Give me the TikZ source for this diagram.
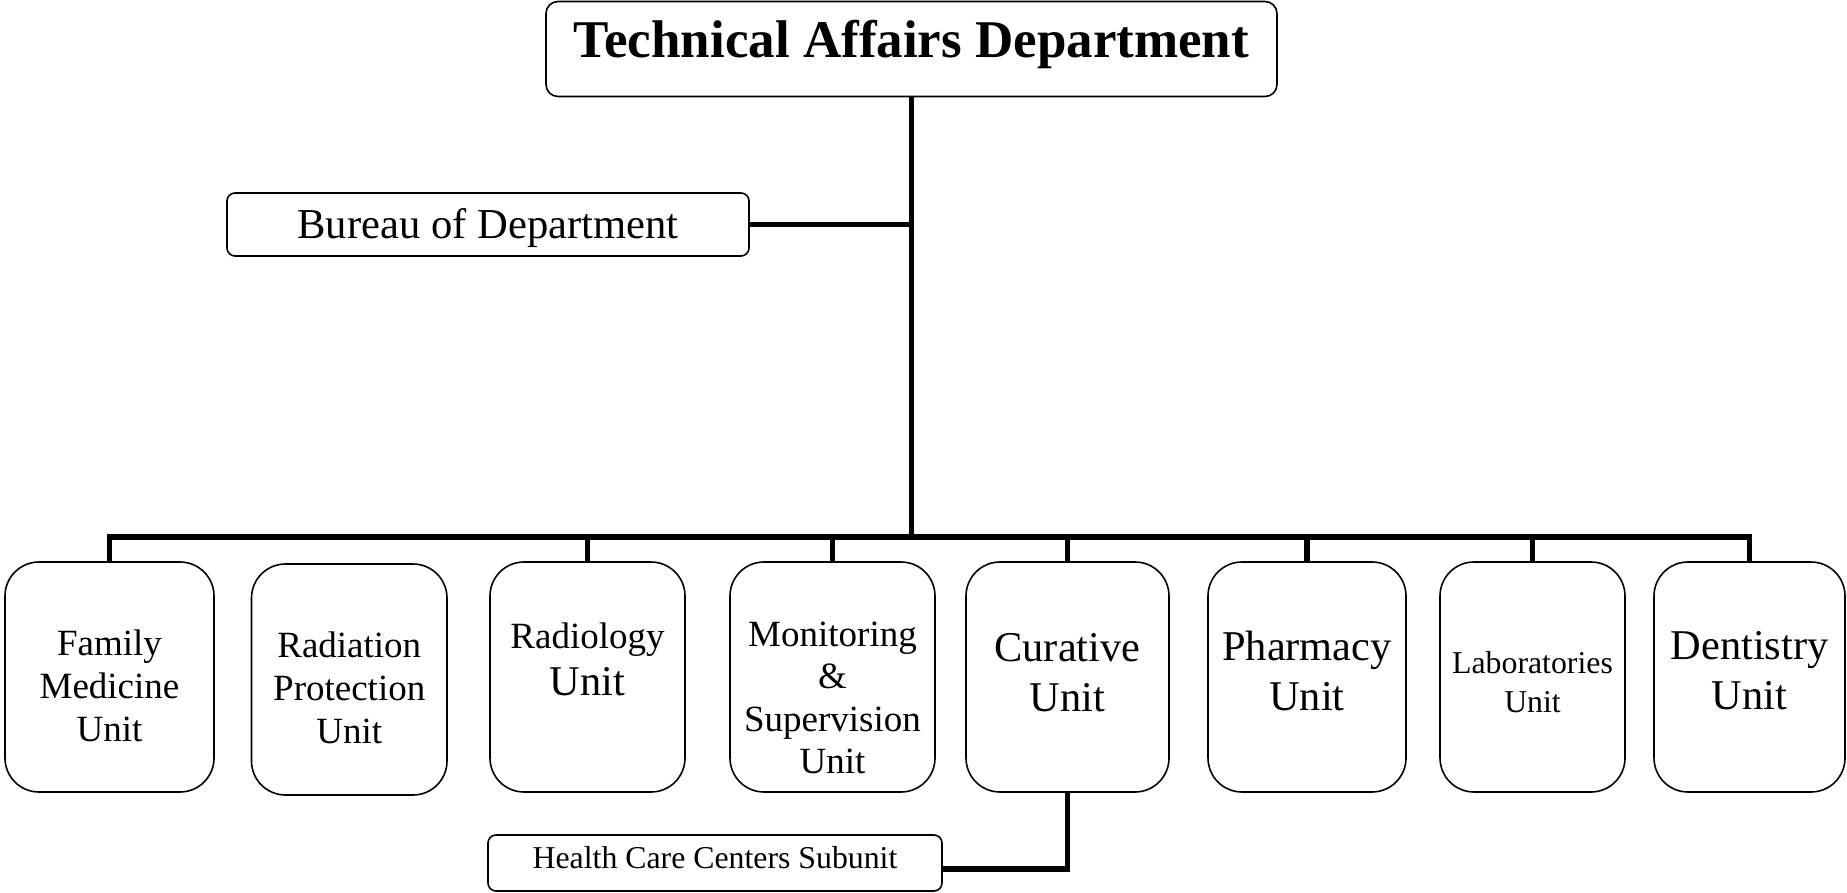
\documentclass[tikz,border=0pt]{standalone}
\usepackage{fontspec}
\setmainfont{Liberation Serif}
\begin{document}
\begin{tikzpicture}[x=0.5pt,y=-0.5pt,
  conn/.style={line width=2.6pt, line join=miter},
  ubox/.style={draw, line width=0.8pt, rounded corners=17pt, minimum height=115pt, inner sep=0pt},
  sbox/.style={draw, line width=0.8pt, rounded corners=4pt, inner sep=0pt},
  utext/.style={align=center, inner sep=0pt},
  mid/.style={font=\fontsize{18.5}{21.6}\selectfont},
  big/.style={font=\fontsize{21.2}{25}\selectfont},
]
\useasboundingbox (0,0) rectangle (1847,893);

% top and bureau
\node[sbox, rounded corners=6pt, minimum width=365.5pt, minimum height=47.5pt] (title) at (911.5,49) {};
\node[utext, font=\fontsize{26.5}{30}\selectfont\bfseries] (titleT) at (911.5,44) {Technical Affairs Department};
\node[sbox, minimum width=261pt, minimum height=31.5pt] (bureau) at (488,224.5) {};
\node[utext, font=\fontsize{21.3}{25}\selectfont] (bureauT) at (488,228) {Bureau of Department};

% unit boxes
\node[ubox, minimum width=104.5pt] (family) at (109.5,677) {};
\node[ubox, minimum width=97.75pt, minimum height=115.5pt] (radiation) at (349.25,679.5) {};
\node[ubox, minimum width=97.5pt] (radiology) at (587.5,677) {};
\node[ubox, minimum width=102.5pt] (monitoring) at (832.5,677) {};
\node[ubox, minimum width=101.5pt] (curative) at (1067.5,677) {};
\node[ubox, minimum width=99pt] (pharmacy) at (1307,677) {};
\node[ubox, minimum width=92.5pt] (labs) at (1532.5,677) {};
\node[ubox, minimum width=95.5pt] (dentistry) at (1749.5,677) {};

% unit texts
\node[utext, mid] (familyT) at (109.5,686) {Family\\Medicine\\Unit};
\node[utext, mid] (radiationT) at (349.25,688) {Radiation\\Protection\\Unit};
\node[utext, mid] (radiologyT1) at (587.5,639.5) {Radiology};
\node[utext, font=\fontsize{21.2}{24}\selectfont] (radiologyT2) at (587.5,682) {Unit};
\node[utext, font=\fontsize{18.5}{21.3}\selectfont] (monitoringT) at (832.5,698) {Monitoring\\\&\\Supervision\\Unit};
\node[utext, big] (curativeT) at (1067.5,672.5) {Curative\\Unit};
\node[utext, big] (pharmacyT) at (1307,670.5) {Pharmacy\\Unit};
\node[utext, font=\fontsize{15.9}{19.5}\selectfont] (labsT) at (1532.5,682) {Laboratories\\Unit};
\node[utext, big] (dentistryT) at (1749.5,671) {Dentistry\\Unit};

% subunit
\node[sbox, minimum width=227pt, minimum height=28pt] (health) at (715,863) {};
\node[utext, font=\fontsize{15.9}{19}\selectfont] (healthT) at (715,858) {Health Care Centers Subunit};

% connectors
\coordinate (bus) at (911.5,537);
\draw[conn] (title.south) -- (bus);
\draw[conn] (bureau.east) -- (bureau.east -| title.south);
\draw[conn] (family.north) -- (family.north |- bus) -- (dentistry.north |- bus) -- (dentistry.north);
\foreach \n in {radiology,monitoring,curative,pharmacy,labs}
  \draw[conn] (\n.north) -- (\n.north |- bus);
\draw[conn] (curative.south) |- ([yshift=-3pt]health.east);
\end{tikzpicture}
\end{document}
